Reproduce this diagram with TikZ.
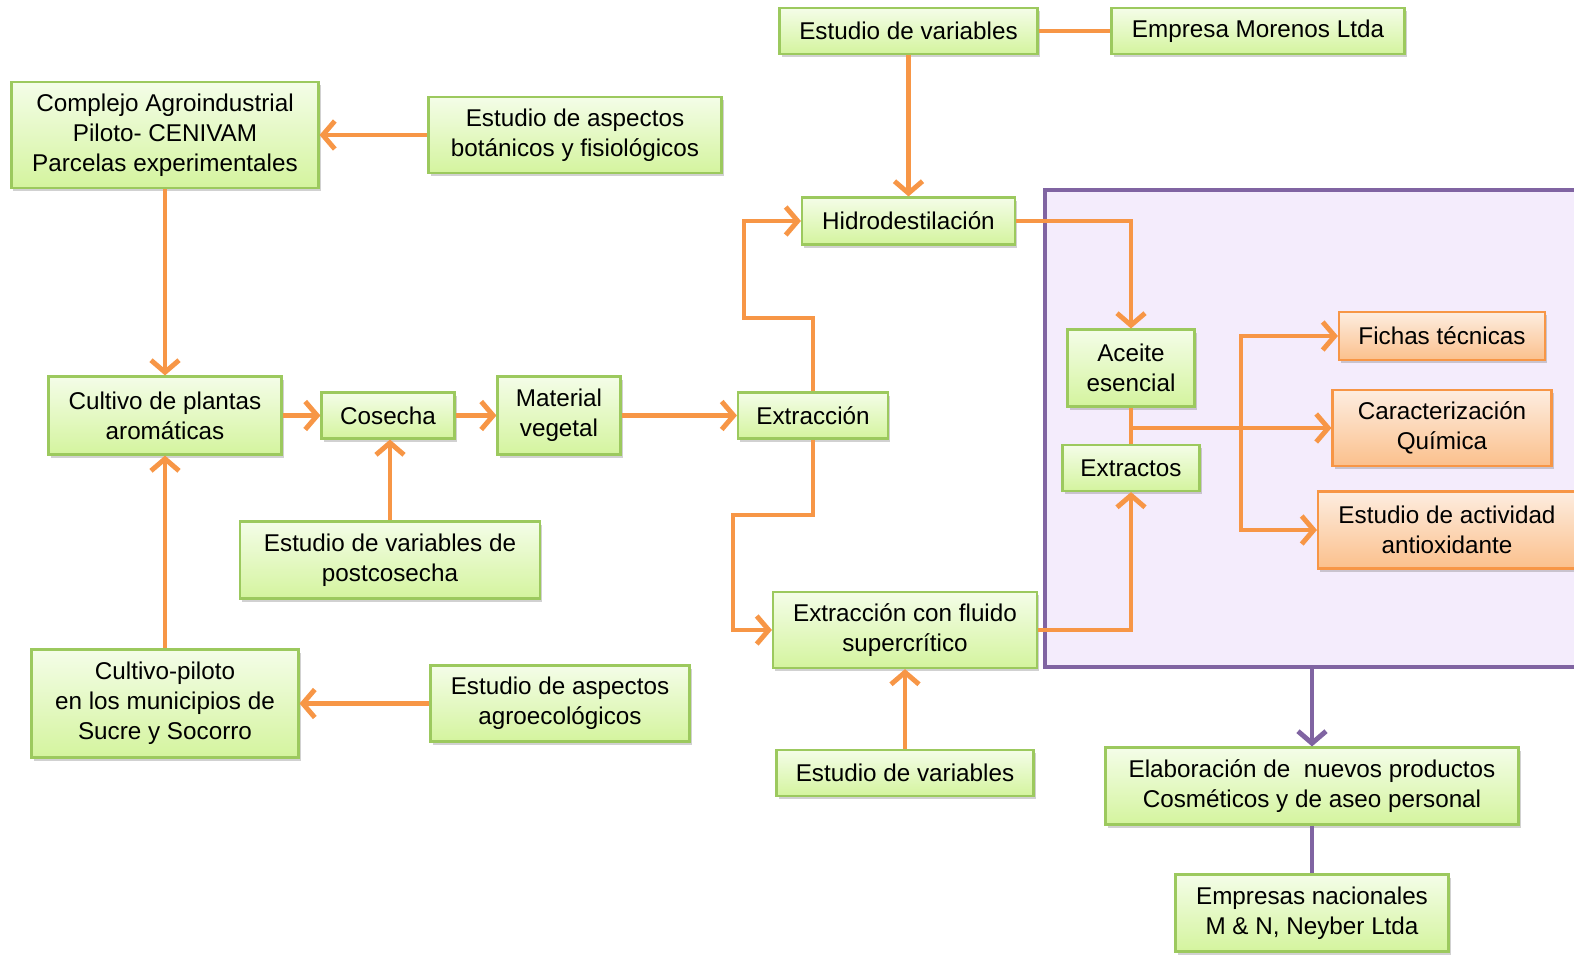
\documentclass[tikz,border=0pt]{standalone}
\usepackage{fontspec}
\setmainfont{Liberation Sans}
\usepackage{xcolor}
\usetikzlibrary{arrows.meta,shadows}

\definecolor{naranja}{HTML}{F79646}
\definecolor{verdeborde}{HTML}{9CC95E}
\definecolor{verdearriba}{HTML}{F4FDE8}
\definecolor{verdeabajo}{HTML}{D4F49E}
\definecolor{narborde}{HTML}{F79646}
\definecolor{nararriba}{HTML}{FDEDE0}
\definecolor{narabajo}{HTML}{FBC08C}
\definecolor{morado}{HTML}{8064A2}
\definecolor{lila}{HTML}{F4ECFC}

\tikzset{
  caja/.style={draw=verdeborde, line width=1.2pt, top color=verdearriba, bottom color=verdeabajo,
    align=center, inner sep=0pt,
    drop shadow={shadow xshift=0.04cm, shadow yshift=-0.06cm, opacity=0.3, fill=black!60}},
  cajanar/.style={caja, draw=narborde, top color=nararriba, bottom color=narabajo},
  flecha/.style={draw=naranja, line width=2.8pt, -{Straight Barb[length=2.4mm,width=5.6mm]}},
  linea/.style={draw=naranja, line width=2.8pt},
  flechamor/.style={flecha, draw=morado},
  lineamor/.style={linea, draw=morado},
  marco/.style={draw=morado, line width=2.6pt, fill=lila, inner sep=0pt}
}

\begin{document}
\begin{tikzpicture}[font=\fontsize{13.8pt}{17pt}\selectfont]
  \useasboundingbox (0,0) rectangle (31.48,-19.1);

  % Marco de productos
  \node[marco, minimum width=11.1cm, minimum height=9.54cm] (marco) at (26.45,-8.57) {};

    % Columna izquierda
    \node[caja, minimum width=6.14cm, minimum height=2.12cm] (complejo) at (3.30,-2.70)
      {Complejo Agroindustrial\\Piloto- CENIVAM\\Parcelas experimentales};
    \node[caja, minimum width=5.86cm, minimum height=1.52cm] (botanicos) at (11.50,-2.70)
      {Estudio de aspectos\\bot\'anicos y fisiol\'ogicos};
    \node[caja, minimum width=4.66cm, minimum height=1.56cm] (cultivo) at (3.30,-8.31)
      {Cultivo de plantas\\arom\'aticas};
    \node[caja, minimum width=5.34cm, minimum height=2.16cm] (piloto) at (3.30,-14.07)
      {Cultivo-piloto\\en los municipios de\\Sucre y Socorro};
    \node[caja, minimum width=5.18cm, minimum height=1.52cm] (agroeco) at (11.20,-14.07)
      {Estudio de aspectos\\agroecol\'ogicos};

   % Cosecha y material
   \node[caja, minimum width=2.66cm, minimum height=0.92cm] (cosecha) at (7.76,-8.31) {Cosecha};
   \node[caja, minimum width=2.46cm, minimum height=1.56cm] (material) at (11.18,-8.31)
     {Material\\vegetal};
   \node[caja, minimum width=6.0cm, minimum height=1.54cm] (postcosecha) at (7.80,-11.20)
     {Estudio de variables de\\postcosecha};

  % Extraccion
  \node[caja, minimum width=3.0cm, minimum height=0.92cm] (extraccion) at (16.26,-8.31) {Extracci\'on};
  \node[caja, minimum width=5.16cm, minimum height=0.92cm] (varsup) at (18.17,-0.62) {Estudio de variables};
  \node[caja, minimum width=5.86cm, minimum height=0.92cm] (morenos) at (25.16,-0.62) {Empresa Morenos Ltda};
  \node[caja, minimum width=4.26cm, minimum height=0.94cm] (hidro) at (18.17,-4.42) {Hidrodestilaci\'on};
  \node[caja, minimum width=5.28cm, minimum height=1.52cm] (fluido) at (18.10,-12.60)
    {Extracci\'on con fluido\\supercr\'itico};
  \node[caja, minimum width=5.14cm, minimum height=0.92cm] (varinf) at (18.10,-15.46) {Estudio de variables};

  % Productos
  \node[caja, minimum width=2.54cm, minimum height=1.54cm] (aceite) at (22.62,-7.36) {Aceite\\esencial};
  \node[caja, minimum width=2.74cm, minimum height=0.92cm] (extractos) at (22.62,-9.36) {Extractos};
  \node[cajanar, minimum width=4.12cm, minimum height=0.96cm] (fichas) at (28.84,-6.72) {Fichas t\'ecnicas};
  \node[cajanar, minimum width=4.38cm, minimum height=1.52cm] (quimica) at (28.84,-8.56)
    {Caracterizaci\'on\\Qu\'imica};
  \node[cajanar, minimum width=5.16cm, minimum height=1.54cm] (antiox) at (28.94,-10.60)
    {Estudio de actividad\\antioxidante};

  % Empresas
  \node[caja, minimum width=8.26cm, minimum height=1.54cm] (elaboracion) at (26.24,-15.72)
    {Elaboraci\'on de \ nuevos productos\\Cosm\'eticos y de aseo personal};
  \node[caja, minimum width=5.46cm, minimum height=1.54cm] (nacionales) at (26.24,-18.26)
    {Empresas nacionales\\M \& N, Neyber Ltda};

  % Conectores
  \draw[flecha] (botanicos) -- (complejo);
  \draw[flecha] (complejo) -- (cultivo);
  \draw[flecha] (piloto) -- (cultivo);
  \draw[flecha] (agroeco) -- (piloto);
  \draw[flecha] (cultivo) -- (cosecha);
  \draw[flecha] (cosecha) -- (material);
  \draw[flecha] (material) -- (extraccion);
  \draw[flecha] (postcosecha.north -| 7.80,0) -- (cosecha.south -| 7.80,0);
  \draw[linea] (varsup) -- (morenos);
  \draw[flecha] (varsup) -- (hidro);
  \draw[flecha] (varinf) -- (fluido);

  \coordinate (subida) at (14.88,-6.36);
  \coordinate (bajada) at (14.66,-10.30);
  \draw[flecha] (extraccion.north) |- (subida) |- (hidro.west);
  \draw[flecha] (extraccion.south) |- (bajada) |- (fluido.west);
  \draw[flecha] (hidro.east) -| (aceite.north);
  \draw[flecha] (fluido.east) -| (extractos.south);
  \draw[linea] (aceite.south) -- (extractos.north);

  \coordinate (ramal) at (aceite.south |- quimica.west);
  \coordinate (eje) at (24.82,-8.56);
  \draw[linea] (ramal) -- (eje);
  \draw[flecha] (eje) |- (fichas.west);
  \draw[flecha] (eje) -- (quimica.west);
  \draw[flecha] (eje) |- (antiox.west);

  \draw[flechamor] (marco.south -| elaboracion.north) -- (elaboracion.north);
  \draw[lineamor] (elaboracion) -- (nacionales);

\end{tikzpicture}
\end{document}
